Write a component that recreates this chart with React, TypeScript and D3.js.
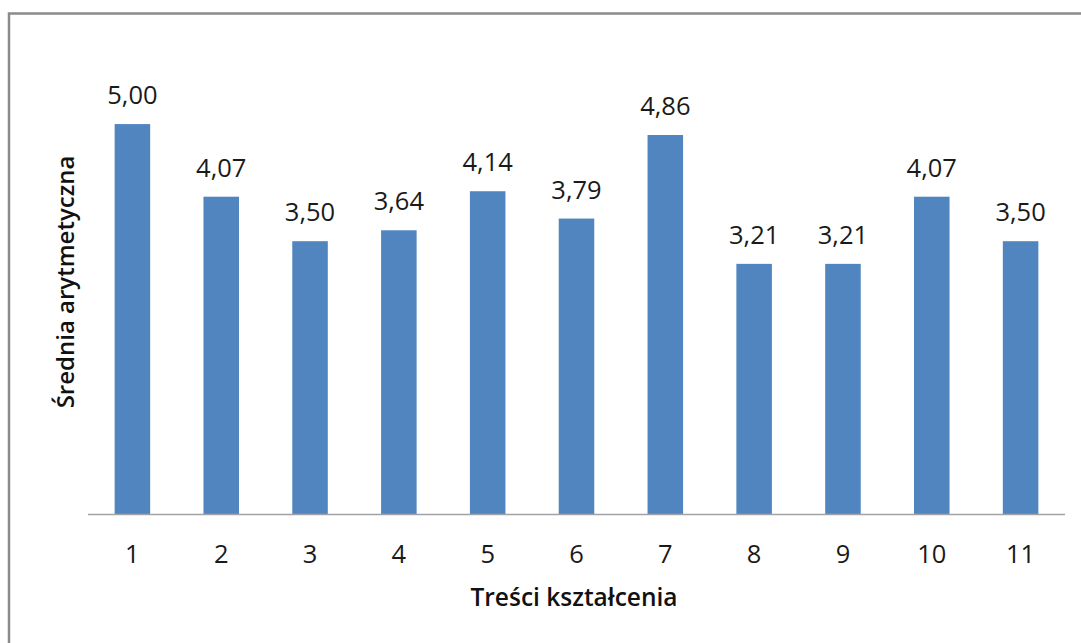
import React from "react";
import * as d3 from "d3";

const categories = ["1", "2", "3", "4", "5", "6", "7", "8", "9", "10", "11"];
const values = [5.0, 4.07, 3.5, 3.64, 4.14, 3.79, 4.86, 3.21, 3.21, 4.07, 3.5];
const xTitle = "Treści kształcenia";
const yTitle = "Średnia arytmetyczna";
const yDomain = [0, 6];

const W = 1081;
const H = 643;
const FONT = "'Open Sans', 'DejaVu Sans', sans-serif";

export default function App() {
  const x = d3
    .scaleBand<string>()
    .domain(categories)
    .range([88, 1065])
    .paddingInner(0.6)
    .paddingOuter(0.3);
  const y = d3.scaleLinear().domain(yDomain).range([514.5, 46]);
  const fmt = (v: number) => d3.format(".2f")(v).replace(".", ",");

  return (
    <svg
      width={W}
      height={H}
      style={{ position: "absolute", left: 0, top: 0, background: "#fff" }}
    >
      <rect x={0} y={0} width={W} height={H} fill="#fff" />
      <rect
        x={9}
        y={13.5}
        width={W + 20}
        height={H + 20}
        fill="none"
        stroke="#8b8b8e"
        strokeWidth={2.5}
      />
      {categories.map((c, i) => (
        <rect
          key={c}
          x={x(c)}
          y={y(values[i])}
          width={x.bandwidth()}
          height={y(0) - y(values[i])}
          fill="#5085c0"
        />
      ))}
      <line
        x1={88}
        x2={1065}
        y1={y(0)}
        y2={y(0)}
        stroke="#a2a2a6"
        strokeWidth={1.5}
      />
      {categories.map((c, i) => (
        <text
          key={"v" + c}
          x={(x(c) as number) + x.bandwidth() / 2}
          y={y(values[i]) - 20}
          textAnchor="middle"
          fontFamily={FONT}
          fontSize={25.5}
          fill="#1a1a1a"
        >
          {fmt(values[i])}
        </text>
      ))}
      {categories.map((c) => (
        <text
          key={"t" + c}
          x={(x(c) as number) + x.bandwidth() / 2}
          y={563}
          textAnchor="middle"
          fontFamily={FONT}
          fontSize={25.5}
          fill="#1a1a1a"
        >
          {c}
        </text>
      ))}
      <text
        x={574}
        y={606}
        textAnchor="middle"
        fontFamily={FONT}
        fontWeight={600}
        fontSize={24.5}
        fill="#111"
      >
        {xTitle}
      </text>
      <text
        transform={`translate(74,282) rotate(-90)`}
        textAnchor="middle"
        fontFamily={FONT}
        fontWeight={600}
        fontSize={24}
        fill="#111"
      >
        {yTitle}
      </text>
    </svg>
  );
}
